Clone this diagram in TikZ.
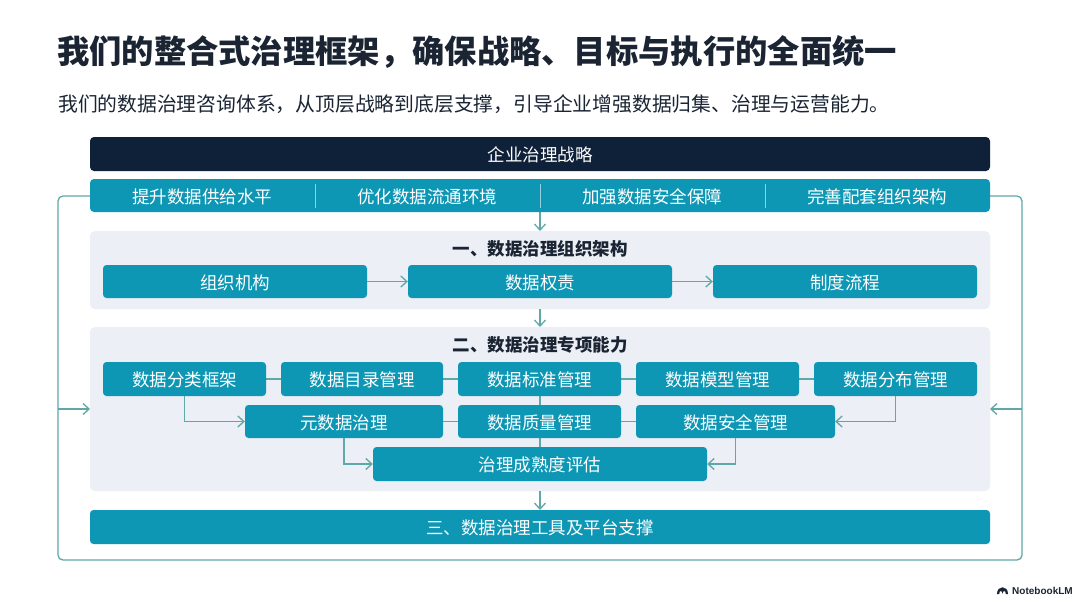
\documentclass[tikz,border=0pt]{standalone}
\usepackage{fontspec}
\setmainfont{Noto Sans CJK SC}
\newfontfamily\latinf{Liberation Sans}
\usetikzlibrary{arrows.meta}
\definecolor{teal1}{HTML}{0E97B5}
\definecolor{navy1}{HTML}{0F2039}
\definecolor{panel1}{HTML}{ECEFF5}
\definecolor{line1}{HTML}{5EA8A8}
\definecolor{ink1}{HTML}{1A2433}
\tikzset{
  x=1pt,y=-1pt,
  tealbox/.style={fill=teal1,rounded corners=3.5pt},
  boxtext/.style={inner sep=0pt,text=white,font=\fontsize{17.5}{20}\selectfont},
  panelbox/.style={fill=panel1,rounded corners=5pt},
  wire/.style={draw=line1,line width=1.3pt},
  flow/.style={wire,-{Straight Barb[length=6pt,width=11pt,line width=1.3pt]}},
  headlabel/.style={font=\fontsize{17.5}{20}\selectfont\bfseries,text=ink1,inner sep=0pt},
}
\newcommand{\bx}[6]{\path[tealbox] (#2,#3) rectangle (#4,#5); \node[inner sep=0pt,minimum width=#4pt-#2pt,minimum height=#5pt-#3pt] (#1) at ({(#2+#4)/2},{(#3+#5)/2}) {}; \node[boxtext] (#1t) at ([yshift=-0.9pt]#1.center) {#6};}
\begin{document}
\begin{tikzpicture}
\useasboundingbox (0,0) rectangle (1080,602);
\fill[white] (0,0) rectangle (1080,602);
\node[anchor=west,inner sep=0pt,text=ink1,font=\fontsize{32.3}{36}\selectfont\bfseries] (title) at (57,52) {我们的整合式治理框架，确保战略、目标与执行的全面统一};
\node[anchor=west,inner sep=0pt,text=ink1,font=\fontsize{19.8}{22}\selectfont] (sub) at (58,104) {我们的数据治理咨询体系，从顶层战略到底层支撑，引导企业增强数据归集、治理与运营能力。};
% panels
\path[panelbox] (90,231) rectangle (990,309);
\path[panelbox] (90,327) rectangle (990,491);
\coordinate (pone) at (540,231);
\coordinate (poneb) at (540,309);
\coordinate (ptwo) at (540,327);
\coordinate (ptwob) at (540,491);
\coordinate (ptwol) at (90,409);
\coordinate (ptwor) at (990,409);
% outer loop
\coordinate (ll) at (58,409);
\coordinate (rr) at (1022,409);
\coordinate (lt) at (58,196);
\coordinate (lb) at (58,560);
\coordinate (rt) at (1022,196);
\coordinate (rb) at (1022,560);
\coordinate (rowl) at (90,196);
\coordinate (rowr) at (990,196);
\draw[wire,rounded corners=5pt] (rowl) -- (lt) -- (lb) -- (rb) -- (rt) -- (rowr);
\draw[flow] (ll) -- (ptwol);
\draw[flow] (rr) -- (ptwor);
% central connectors
\coordinate (rowb) at (540,212);
\draw[flow] (rowb) -- (pone);
\draw[flow] (poneb) -- (ptwo);
\coordinate (botbox) at (540,510);
\draw[flow] (ptwob) -- (botbox);
% boxes
\path[fill=navy1,rounded corners=4pt] (90,137) rectangle (990,171);
\node[boxtext] (top) at (540,155) {企业治理战略};
\path[fill=teal1,rounded corners=4pt] (90,179) rectangle (990,212);
\node[boxtext] (g1) at (202,196.8) {提升数据供给水平};
\node[boxtext] (g2) at (427,196.8) {优化数据流通环境};
\node[boxtext] (g3) at (652,196.8) {加强数据安全保障};
\node[boxtext] (g4) at (877,196.8) {完善配套组织架构};
\foreach \xx in {315,540,765} \draw[draw=white!55!teal1,line width=0.8pt] (\xx,184) -- (\xx,208);
\node[headlabel] (h1) at (540,248.8) {一、数据治理组织架构};
\node[headlabel] (h2) at (540,345) {二、数据治理专项能力};
% wires behind boxes in panel two
\coordinate (a) at (540,396);
\coordinate (b) at (540,447);
\draw[wire] (a) -- (b);
\draw[wire] (266,379) -- (814,379);
\draw[wire] (443,421.5) -- (636,421.5);
\bx{o1}{103}{265}{367}{298}{组织机构}
\bx{o2}{408}{265}{672}{298}{数据权责}
\bx{o3}{713}{265}{977}{298}{制度流程}
\draw[flow] (o1) -- (o2);
\draw[flow] (o2) -- (o3);
\bx{c1}{103}{362}{266}{396}{数据分类框架}
\bx{c2}{281}{362}{443}{396}{数据目录管理}
\bx{c3}{458}{362}{621}{396}{数据标准管理}
\bx{c4}{636}{362}{799}{396}{数据模型管理}
\bx{c5}{814}{362}{977}{396}{数据分布管理}
\bx{m1}{245}{405}{443}{438}{元数据治理}
\bx{m2}{458}{405}{621}{438}{数据质量管理}
\bx{m3}{636}{405}{835}{438}{数据安全管理}
\bx{e1}{373}{447}{707}{481}{治理成熟度评估}
\draw[flow] (c1.south) |- (m1.west);
\draw[flow] (c5.south) |- (m3.east);
\draw[flow] (m1.south) |- (e1.west);
\draw[flow] (m3.south) |- (e1.east);
\bx{t1}{90}{510}{990}{544}{三、数据治理工具及平台支撑}
% logo
\fill[ink1] (997,594) .. controls (997,585) and (1008,585) .. (1008,594) -- (1005.8,594) .. controls (1005.8,590) and (1002.5,590) .. (1002.5,594) .. controls (1002.5,590) and (999.2,590) .. (999.2,594) -- cycle;
\node[anchor=west,inner sep=0pt,text=ink1,font=\latinf\fontsize{10}{12}\selectfont\bfseries] (logo) at (1012,590.5) {NotebookLM};
\end{tikzpicture}
\end{document}
